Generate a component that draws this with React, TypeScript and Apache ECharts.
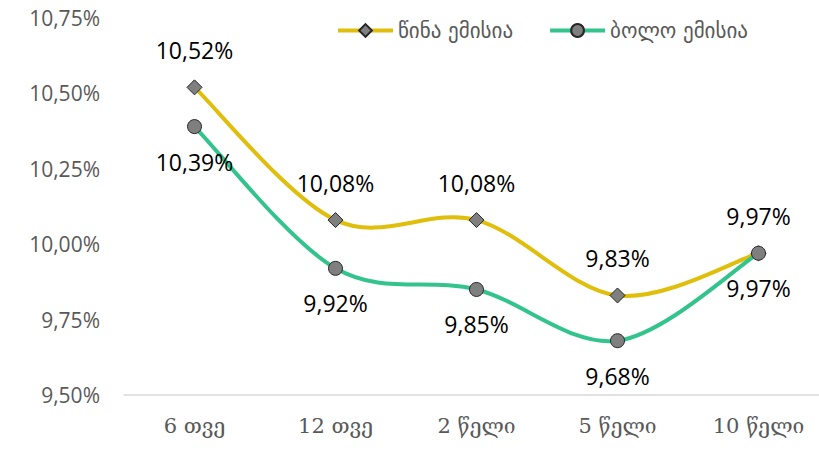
import React, { useEffect, useRef } from "react";
import * as echarts from "echarts";

const categories = ["6 თვე", "12 თვე", "2 წელი", "5 წელი", "10 წელი"];
const previousIssue = [10.52, 10.08, 10.08, 9.83, 9.97];
const lastIssue = [10.39, 9.92, 9.85, 9.68, 9.97];
const seriesNames = ["წინა ემისია", "ბოლო ემისია"];
const colors = ["#DFBE0C", "#33C38C"];

const fmt = (v: number) => v.toFixed(2).replace(".", ",") + "%";

// Excel-like smoothed curve (Catmull-Rom as cubic Bezier), drawn through the axes' scales
function smoothCurve(values: number[], color: string) {
  return {
    type: "custom",
    name: "curve-" + color,
    data: values.map((v, i) => [i, v]),
    encode: { x: 0, y: 1 },
    z: 1,
    silent: true,
    renderItem: (params: any, api: any) => {
      const i = params.dataIndex;
      const n = values.length;
      if (i >= n - 1) return null;
      const P = (k: number) => {
        const kk = Math.max(0, Math.min(n - 1, k));
        return api.coord([kk, values[kk]]);
      };
      const p0 = P(i - 1), p1 = P(i), p2 = P(i + 1), p3 = P(i + 2);
      const t = 1 / 6;
      return {
        type: "bezierCurve",
        shape: {
          x1: p1[0], y1: p1[1],
          x2: p2[0], y2: p2[1],
          cpx1: p1[0] + (p2[0] - p0[0]) * t,
          cpy1: p1[1] + (p2[1] - p0[1]) * t,
          cpx2: p2[0] - (p3[0] - p1[0]) * t,
          cpy2: p2[1] - (p3[1] - p1[1]) * t,
        },
        style: { fill: "none", stroke: color, lineWidth: 4, lineCap: "round" },
      };
    },
  };
}

export default function App() {
  const ref = useRef<HTMLDivElement>(null);
  useEffect(() => {
    if (!ref.current) return;
    const chart = echarts.init(ref.current, null, { renderer: "svg" });
    const labelStyle = {
      show: true,
      color: "#000",
      fontSize: 23,
      fontFamily: "Open Sans",
      formatter: (p: any) => fmt(p.value),
    };
    chart.setOption({
      animation: false,
      backgroundColor: "#fff",
      grid: { left: 124, right: 0, top: 18, bottom: 67 },
      legend: {
        top: 20,
        left: 336,
        padding: 0,
        itemWidth: 55,
        itemHeight: 16,
        itemGap: 35,
        textStyle: { color: "#595959", fontSize: 21, fontFamily: "DejaVu Sans" },
        data: [
          { name: seriesNames[0], lineStyle: { color: colors[0], width: 4, opacity: 1 } },
          { name: seriesNames[1], lineStyle: { color: colors[1], width: 4, opacity: 1 } },
        ],
      },
      xAxis: {
        type: "category",
        data: categories,
        boundaryGap: true,
        axisLine: { lineStyle: { color: "#d9d9d9", width: 1.5 } },
        axisTick: { show: false },
        axisLabel: { color: "#595959", fontSize: 21, fontFamily: "DejaVu Serif", margin: 20 },
      },
      yAxis: {
        type: "value",
        min: 9.5,
        max: 10.75,
        interval: 0.25,
        axisLine: { show: false },
        axisTick: { show: false },
        splitLine: { show: false },
        axisLabel: {
          color: "#595959",
          fontSize: 21,
          fontFamily: "Open Sans",
          margin: 24,
          formatter: (v: number) => fmt(v),
        },
      },
      series: [
        smoothCurve(previousIssue, colors[0]),
        smoothCurve(lastIssue, colors[1]),
        {
          name: seriesNames[0],
          type: "line",
          data: previousIssue,
          symbol: "diamond",
          symbolSize: 15,
          lineStyle: { color: colors[0], width: 4, opacity: 0 },
          itemStyle: { color: "#7f7f7f", borderColor: "#262626", borderWidth: 1 },
          label: { ...labelStyle, position: "top", distance: 18 },
          z: 3,
        },
        {
          name: seriesNames[1],
          type: "line",
          data: lastIssue,
          symbol: "circle",
          symbolSize: 14,
          lineStyle: { color: colors[1], width: 4, opacity: 0 },
          itemStyle: { color: "#7f7f7f", borderColor: "#262626", borderWidth: 1 },
          label: { ...labelStyle, position: "bottom", distance: 16 },
          z: 4,
        },
      ],
    });
    return () => chart.dispose();
  }, []);
  return (
    <div style={{ position: "absolute", left: 0, top: 0, width: 819, height: 462, overflow: "hidden" }}>
      <div ref={ref} style={{ width: 829, height: 462 }} />
    </div>
  );
}
